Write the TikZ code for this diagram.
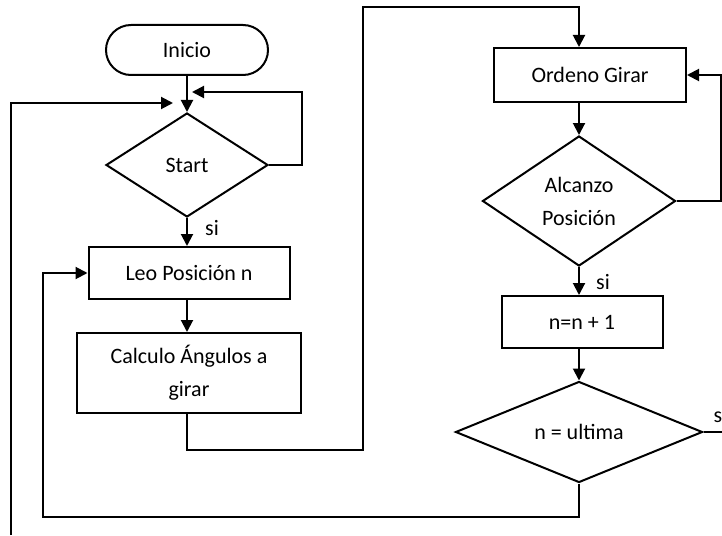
\documentclass[tikz,border=0pt]{standalone}
\usepackage{fontspec}
\setmainfont{Carlito}
\usetikzlibrary{arrows.meta,shapes.geometric}

\begin{document}
\begin{tikzpicture}[
        x=0.5pt, y=-0.5pt,
        line width=1pt,
        every node/.style={font=\fontsize{11}{16.5}\selectfont},
        terminal/.style={
            draw,
            rounded corners=12.5pt,
            minimum width=81pt,
            minimum height=25pt,
            align=center
        },
        process/.style={
            draw,
            minimum height=26pt,
            align=center
        },
        decision/.style={
            draw,
            diamond,
            aspect=1.5,
            inner sep=0pt,
            align=center
        },
        arrow/.style={-{Triangle[length=6pt,width=6pt]}}
    ]
    \useasboundingbox (0,0) rectangle (722,535);

    % =========================
    % Left column
    % =========================
    \node[terminal] (inicio) at (187,50) {Inicio};
    \node[decision, minimum width=81pt, minimum height=52pt] (start) at (187,165) {Start};
    \node[process, minimum width=100.5pt] (leo) at (189,273) {Leo Posición n};
    \node[process, minimum width=112pt, minimum height=40pt] (calc) at (189,373) {Calculo Ángulos a\\girar};

    % Points where the loops come back in
    \coordinate (joinR) at (192,92);
    \coordinate (joinL) at (173,103);
    \coordinate (loopfoot) at (11,535);

    \draw[arrow] (inicio.south) -- (start.north);
    \draw[arrow] (start.east) -- (302,165) |- (joinR);
    \draw[arrow] (loopfoot) |- (joinL);
    \draw[arrow] (start.south) -- (start.south |- leo.north);
    \node at (212,228) {si};
    \draw[arrow] (start.south |- leo.south) -- (start.south |- calc.north);

    % =========================
    % Right column
    % =========================
    \node[process, minimum width=96pt, minimum height=27pt] (orden) at (590,75) {Ordeno Girar};
    \node[decision, minimum width=96.5pt, minimum height=65pt] (alcanzo) at (579,201) {Alcanzo\\Posición};
    \node[process, minimum width=80.5pt] (incr) at (582,322) {n=n + 1};
    \node[decision, minimum width=123.5pt, minimum height=50.5pt] (ultima) at (579,432) {n = ultima};

    \draw[arrow] (start.south |- calc.south) |- (363,450) -- (363,7) -| (alcanzo.north |- orden.north);
    \draw[arrow] (alcanzo.north |- orden.south) -- (alcanzo.north);
    \draw[arrow] (alcanzo.east) -- (721,201) |- (orden.east);
    \draw[arrow] (alcanzo.south) -- (alcanzo.south |- incr.north);
    \node at (603,282) {si};
    \draw[arrow] (ultima.north |- incr.south) -- (ultima.north);

    % Exits of the last decision
    \draw (ultima.east) -- (722,432);
    \node at (718,417) {s};
    \draw[arrow] (ultima.south) |- (43,517) |- (leo.west);

\end{tikzpicture}
\end{document}
